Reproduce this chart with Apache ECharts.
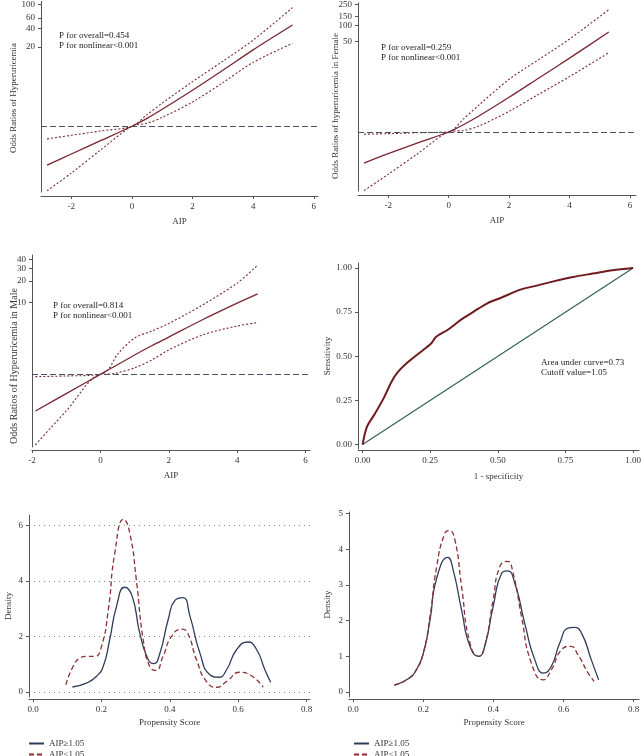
<!DOCTYPE html>
<html>
<head>
<meta charset="utf-8">
<script src="https://cdn.jsdelivr.net/npm/echarts@6/dist/echarts.min.js"></script>
<style>
  html, body { margin: 0; padding: 0; background: #fff; }
  #main { width: 644px; height: 756px; }
</style>
</head>
<body>
<div id="main"></div>
<script>
// ---- data ----
// RCS, overall
var rcsX1 = [-2.8, -2, -1, 0, 0.5, 1, 2, 3, 4, 5.3];
var rcsOr1 = [0.23, 0.35, 0.59, 1.0, 1.35, 1.9, 3.9, 8.3, 18, 46];
var rcsHi1 = [0.62, 0.71, 0.84, 1.0, 1.55, 2.4, 5.4, 11.7, 26, 89];
var rcsLo1 = [0.087, 0.17, 0.42, 1.0, 1.12, 1.4, 2.5, 5.2, 11.2, 23];
var yTicks1 = [20, 40, 60, 80, 100];
// RCS, female
var rcsX2 = [-2.8, -2, -1, 0, 0.5, 1, 2, 3, 4, 5.3];
var rcsOr2 = [0.26, 0.39, 0.63, 1.0, 1.38, 2.0, 4.5, 10.5, 24.5, 76];
var rcsHi2 = [0.91, 0.93, 0.97, 1.0, 1.78, 3.2, 9.8, 23.4, 56, 200];
var rcsLo2 = [0.079, 0.16, 0.40, 1.0, 1.07, 1.29, 2.45, 5.2, 11, 31];
var yTicks2 = [50, 100, 150, 200, 250];
// RCS, male
var rcsX3 = [-1.9, -1, 0, 0.25, 0.5, 1, 1.5, 2, 3, 4, 4.6];
var rcsOr3 = [0.31, 0.54, 1.0, 1.17, 1.36, 1.86, 2.5, 3.3, 5.8, 9.8, 13.2];
var rcsHi3 = [0.93, 0.95, 1.0, 1.2, 1.9, 3.2, 4.0, 5.1, 9.3, 18.6, 33];
var rcsLo3 = [0.105, 0.31, 1.0, 1.01, 1.05, 1.23, 1.58, 2.19, 3.55, 4.7, 5.25];
var yTicks3 = [10, 20, 30, 40];
var aipTicks = [-2, 0, 2, 4, 6];

// ROC
var rocFpr = [0, 0.016, 0.046, 0.077, 0.107, 0.13, 0.17, 0.217, 0.254, 0.272, 0.315, 0.363, 0.412, 0.461, 0.51, 0.583, 0.644, 0.705, 0.778, 0.851, 0.924, 1];
var rocTpr = [0, 0.10, 0.176, 0.26, 0.356, 0.41, 0.47, 0.527, 0.574, 0.61, 0.65, 0.706, 0.754, 0.80, 0.83, 0.877, 0.90, 0.924, 0.949, 0.968, 0.987, 1];
var rocTicks = [0, 0.25, 0.5, 0.75, 1];

// propensity score density, before matching
var psX1Hi = [0.115, 0.156, 0.185, 0.205, 0.224, 0.244, 0.268, 0.29, 0.312, 0.337, 0.353, 0.371, 0.395, 0.415, 0.438, 0.459, 0.488, 0.517, 0.543, 0.566, 0.595, 0.628, 0.654, 0.678, 0.695];
var psY1Hi = [0.18, 0.32, 0.56, 0.92, 1.88, 3.08, 3.77, 3.44, 2.12, 1.16, 1.02, 1.40, 2.6, 3.3, 3.40, 2.72, 1.40, 0.62, 0.53, 0.80, 1.52, 1.80, 1.52, 0.80, 0.35];
var psX1Lo = [0.096, 0.117, 0.137, 0.156, 0.18, 0.2, 0.22, 0.239, 0.265, 0.283, 0.302, 0.322, 0.341, 0.359, 0.38, 0.405, 0.435, 0.452, 0.478, 0.507, 0.537, 0.566, 0.605, 0.634, 0.673];
var psY1Lo = [0.26, 0.92, 1.22, 1.28, 1.28, 1.64, 2.96, 5.0, 6.22, 5.71, 4.04, 1.88, 0.92, 0.78, 1.28, 2.0, 2.26, 2.12, 1.16, 0.38, 0.17, 0.38, 0.71, 0.62, 0.17];
var psTicks1 = [0, 2, 4, 6];
// after matching
var psX2Hi = [0.117, 0.157, 0.18, 0.2, 0.219, 0.238, 0.27, 0.285, 0.309, 0.333, 0.358, 0.375, 0.399, 0.423, 0.44, 0.461, 0.489, 0.518, 0.543, 0.565, 0.589, 0.613, 0.63, 0.651, 0.679, 0.70];
var psY2Hi = [0.19, 0.37, 0.62, 1.09, 2.02, 3.18, 3.77, 3.42, 2.30, 1.28, 1.0, 1.28, 2.39, 3.32, 3.39, 3.04, 1.93, 0.90, 0.53, 0.72, 1.37, 1.79, 1.81, 1.65, 0.90, 0.34];
var psX2Lo = [0.117, 0.157, 0.18, 0.2, 0.219, 0.238, 0.261, 0.274, 0.29, 0.309, 0.333, 0.358, 0.375, 0.399, 0.418, 0.44, 0.455, 0.48, 0.508, 0.542, 0.565, 0.594, 0.62, 0.641, 0.67, 0.687];
var psY2Lo = [0.19, 0.37, 0.62, 1.09, 2.11, 3.51, 4.44, 4.52, 4.26, 2.95, 1.37, 1.0, 1.28, 2.58, 3.51, 3.66, 3.37, 2.11, 0.81, 0.34, 0.62, 1.18, 1.28, 1.04, 0.53, 0.30];
var psTicks2 = [0, 1, 2, 3, 4, 5];
var psXTicks = [0, 0.2, 0.4, 0.6, 0.8];

var FONT = 'Liberation Serif';
var RED = '#7a2630';
var NAVY = '#2f3b58';
var DRED = '#8b2f35';
var REFLINE = '#4a5266';
var AXIS = '#555';

function pairs(xs, ys, fn) {
  return xs.map(function (x, i) { return [x, fn ? fn(ys[i]) : ys[i]]; });
}
function lg(v) { return Math.log10(v); }

function xAx(grid, min, max, ticks, name, gap, offset, fmt) {
  return {
    type: 'value', gridIndex: grid, min: min, max: max, offset: offset,
    name: name, nameLocation: 'middle', nameGap: gap,
    nameTextStyle: { fontFamily: FONT, fontSize: 9, color: '#333' },
    axisLine: { onZero: false, lineStyle: { color: AXIS } },
    axisTick: { length: 3, customValues: ticks, lineStyle: { color: AXIS } },
    axisLabel: { customValues: ticks, fontFamily: FONT, fontSize: 9, color: '#333', margin: 6, formatter: fmt,
      showMinLabel: true, showMaxLabel: true, hideOverlap: false },
    splitLine: { show: false }
  };
}
function yAx(grid, min, max, ticks, name, gap, fmt, split) {
  return {
    type: 'value', gridIndex: grid, min: min, max: max,
    name: name, nameLocation: 'middle', nameGap: gap,
    nameTextStyle: { fontFamily: FONT, fontSize: 9, color: '#333' },
    axisLine: { show: true, onZero: false, lineStyle: { color: AXIS } },
    axisTick: { show: true, length: 3, customValues: ticks, lineStyle: { color: AXIS } },
    axisLabel: { customValues: ticks, fontFamily: FONT, fontSize: 9, color: '#333', margin: 6, formatter: fmt,
      showMinLabel: true, showMaxLabel: true, hideOverlap: false },
    splitLine: split ? { show: true, lineStyle: { type: [1, 4], color: '#888', width: 1 } } : { show: false }
  };
}
function fmtLog(v) { return String(Math.round(Math.pow(10, v))); }
function fmt2(v) { return v.toFixed(2); }
function fmt1(v) { return v.toFixed(1); }
function fmt0(v) { return String(Math.round(v)); }

function rcsSeries(idx, xs, or, hi, lo) {
  var base = { type: 'line', xAxisIndex: idx, yAxisIndex: idx, showSymbol: false, symbol: 'none', smooth: 0.3, silent: true };
  return [
    Object.assign({}, base, {
      data: pairs(xs, or, lg), lineStyle: { color: RED, width: 1.3 },
      markLine: { silent: true, symbol: 'none', label: { show: false },
        lineStyle: { color: REFLINE, type: [6, 3], width: 1.1 }, data: [{ yAxis: 0 }] }
    }),
    Object.assign({}, base, { data: pairs(xs, hi, lg), lineStyle: { color: RED, width: 1.1, type: [2, 2] } }),
    Object.assign({}, base, { data: pairs(xs, lo, lg), lineStyle: { color: RED, width: 1.1, type: [2, 2] } })
  ];
}
function psSeries(idx, xh, yh, xl, yl) {
  var base = { type: 'line', xAxisIndex: idx, yAxisIndex: idx, showSymbol: false, symbol: 'none', smooth: 0.55 };
  return [
    Object.assign({}, base, { name: 'AIP≥1.05', data: pairs(xh, yh), lineStyle: { color: NAVY, width: 1.3 }, itemStyle: { color: NAVY } }),
    Object.assign({}, base, { name: 'AIP<1.05', data: pairs(xl, yl), lineStyle: { color: DRED, width: 1.3, type: [5, 3] }, itemStyle: { color: DRED } })
  ];
}

function legendItem(x, y, name) {
  return {
    left: x, top: y, itemWidth: 15, itemHeight: 8, padding: 0,
    itemStyle: { opacity: 0 },
    textStyle: { fontFamily: FONT, fontSize: 9, color: '#333' },
    data: [name]
  };
}

function note(x, y, lines) {
  return {
    type: 'text', left: x, top: y,
    style: { text: lines.join('\n'), fontFamily: FONT, fontSize: 9, fill: '#222', lineHeight: 10.5 }
  };
}
// vertical axis title centred at (cx, cy)
function vTitle(cx, cy, text, size) {
  return {
    type: 'text', x: cx, y: cy, rotation: Math.PI / 2,
    style: { text: text, fontFamily: FONT, fontSize: size, fill: '#333', align: 'center', verticalAlign: 'middle' }
  };
}

var chart = echarts.init(document.getElementById('main'), null, { renderer: 'canvas' });
chart.setOption({
  animation: false,
  backgroundColor: '#fff',
  grid: [
    { left: 41, top: 1, width: 277, height: 191 },
    { left: 358, top: 0, width: 278, height: 191 },
    { left: 32, top: 255, width: 278, height: 192 },
    { left: 358, top: 263, width: 284, height: 186 },
    { left: 29, top: 515, width: 281, height: 182 },
    { left: 349, top: 512, width: 290, height: 185 }
  ],
  xAxis: [
    xAx(0, -3, 6.14, aipTicks, 'AIP', 21, 4, fmt0),
    xAx(1, -3, 6.2, aipTicks, 'AIP', 21, 4, fmt0),
    xAx(2, -2, 6.13, aipTicks, 'AIP', 21, 3, fmt0),
    xAx(3, -0.017, 1.022, rocTicks, '1 - specificity', 22, 1, fmt2),
    xAx(4, -0.012, 0.81, psXTicks, 'Propensity Score', 19, 2, fmt1),
    xAx(5, -0.012, 0.815, psXTicks, 'Propensity Score', 19, 2, fmt1)
  ],
  yAxis: [
    yAx(0, -1.08, 2.05, yTicks1.map(lg), '', 22, fmtLog),
    yAx(1, -1.11, 2.43, yTicks2.map(lg), '', 17, fmtLog),
    yAx(2, -1.01, 1.66, yTicks3.map(lg), '', 14, fmtLog),
    yAx(3, -0.025, 1.028, rocTicks, 'Sensitivity', 24, fmt2),
    yAx(4, -0.18, 6.37, psTicks1, 'Density', 16, fmt0, true),
    yAx(5, -0.14, 5.04, psTicks2, 'Density', 17, fmt0)
  ],
  legend: [
    legendItem(28, 739, 'AIP≥1.05'),
    legendItem(28, 750, 'AIP<1.05'),
    legendItem(353, 739, 'AIP≥1.05'),
    legendItem(353, 750, 'AIP<1.05')
  ],
  graphic: [
    vTitle(14, 98, 'Odds Ratios of Hyperuricemia', 9),
    vTitle(336, 106, 'Odds Ratios of hyperuricemia in Female', 9),
    vTitle(14, 366, 'Odds Ratios of Hyperuricemia in Male', 10),
    note(59, 30, ['P for overall=0.454', 'P for nonlinear<0.001']),
    note(381, 42, ['P for overall=0.259', 'P for nonlinear<0.001']),
    note(53, 300, ['P for overall=0.814', 'P for nonlinear<0.001']),
    note(541, 357, ['Area under curve=0.73', 'Cutoff value=1.05'])
  ],
  series: [].concat(
    rcsSeries(0, rcsX1, rcsOr1, rcsHi1, rcsLo1),
    rcsSeries(1, rcsX2, rcsOr2, rcsHi2, rcsLo2),
    rcsSeries(2, rcsX3, rcsOr3, rcsHi3, rcsLo3),
    [
      { type: 'line', xAxisIndex: 3, yAxisIndex: 3, showSymbol: false, symbol: 'none',
        data: [[0, 0], [1, 1]], lineStyle: { color: '#2f5e52', width: 1.1 } },
      { type: 'line', xAxisIndex: 3, yAxisIndex: 3, showSymbol: false, symbol: 'none', smooth: 0.3,
        data: pairs(rocFpr, rocTpr), lineStyle: { color: '#6e1a1f', width: 2 } }
    ],
    psSeries(4, psX1Hi, psY1Hi, psX1Lo, psY1Lo),
    psSeries(5, psX2Hi, psY2Hi, psX2Lo, psY2Lo)
  )
});
</script>
</body>
</html>
